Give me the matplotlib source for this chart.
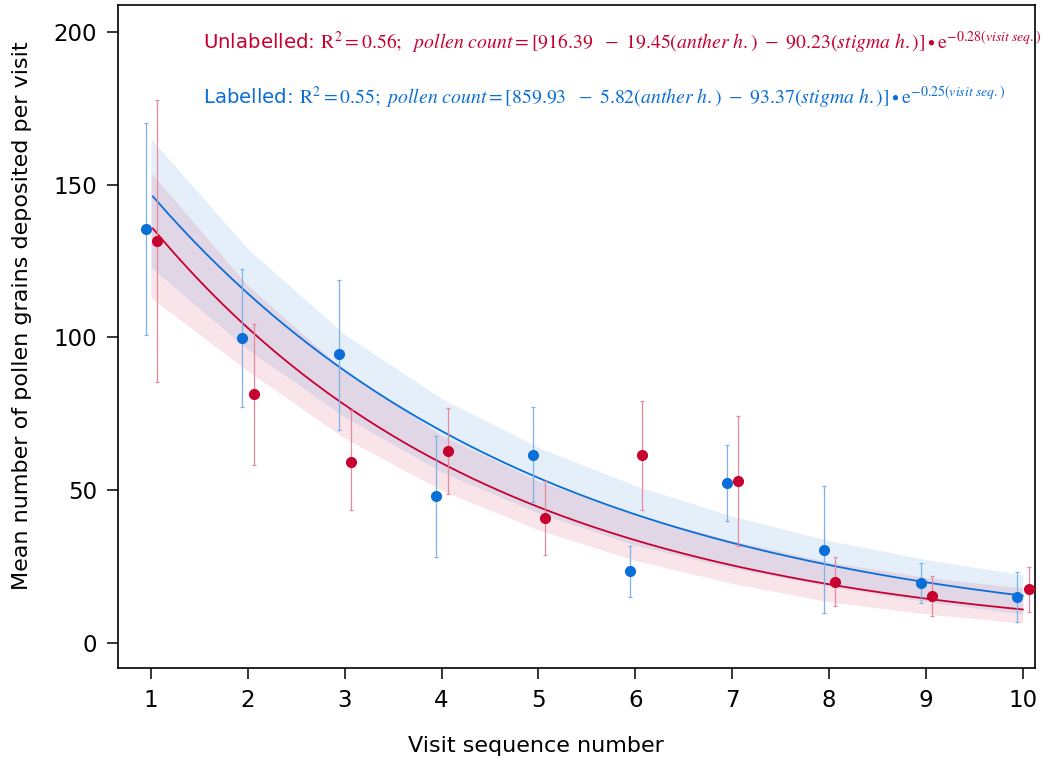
import numpy as np
import matplotlib
matplotlib.use("Agg")
import matplotlib.pyplot as plt

plt.rcParams["font.family"] = ["DejaVu Sans"]
plt.rcParams["mathtext.fontset"] = "stix"

# visit sequence
visits = np.arange(1, 11)

# labelled (blue) means and error bar ends
lab_mean = [135.5, 99.8, 94.6, 48.1, 61.5, 23.4, 52.4, 30.4, 19.6, 15.1]
lab_hi = [170.2, 122.4, 118.8, 67.8, 77.2, 31.8, 64.8, 51.4, 26.3, 23.2]
lab_lo = [100.8, 77.2, 69.7, 28.2, 46.2, 15.1, 39.9, 9.8, 13.1, 6.9]

# unlabelled (red) means and error bar ends
unl_mean = [131.6, 81.5, 59.2, 62.8, 40.9, 61.5, 53.0, 20.0, 15.4, 17.7]
unl_hi = [177.7, 104.4, 76.3, 76.9, 53.0, 79.2, 74.3, 28.2, 21.9, 24.9]
unl_lo = [85.4, 58.3, 43.5, 48.8, 28.8, 43.5, 31.8, 12.1, 8.8, 10.1]

# fitted curves: amplitude * exp(-rate * visit)
lab_amp, lab_rate = 188.6, 0.25
unl_amp, unl_rate = 180.5, 0.28

# confidence bands read at each visit
lab_band_hi = [165, 129, 101, 80, 64, 51.5, 41.5, 33.5, 27.3, 22.3]
lab_band_lo = [123, 96, 74, 56, 42.5, 32, 24.5, 18.5, 13.5, 9.5]
unl_band_hi = [154, 117, 89, 68, 53, 42, 33.5, 26.5, 21.5, 18]
unl_band_lo = [113, 89, 67, 50, 37, 27, 19.5, 13.5, 9.5, 6.5]

blue = "#0A6ED9"
red = "#C80030"
blue_err = "#80B0E8"
red_err = "#E58A9E"

fig = plt.figure(figsize=(10.49, 7.67), dpi=100)
ax = fig.add_axes([0.1125, 0.129, 0.8745, 0.8645])

# bands
ax.fill_between(visits, lab_band_lo, lab_band_hi, color=blue, alpha=0.11, lw=0)
ax.fill_between(visits, unl_band_lo, unl_band_hi, color=red, alpha=0.10, lw=0)

# fitted lines
xs = np.linspace(1.02, 10.0, 200)
ax.plot(xs, lab_amp * np.exp(-lab_rate * xs), color=blue, lw=1.3)
ax.plot(xs, unl_amp * np.exp(-unl_rate * xs), color=red, lw=1.3)

# points with error bars
lm = np.array(lab_mean)
um = np.array(unl_mean)
ax.errorbar(visits - 0.055, lm, yerr=[lm - np.array(lab_lo), np.array(lab_hi) - lm],
            fmt="o", color=blue, ecolor=blue_err, elinewidth=0.9, capsize=1.5,
            capthick=0.9, markersize=7, zorder=4)
ax.errorbar(visits + 0.065, um, yerr=[um - np.array(unl_lo), np.array(unl_hi) - um],
            fmt="o", color=red, ecolor=red_err, elinewidth=0.9, capsize=1.5,
            capthick=0.9, markersize=7, zorder=4)

ax.set_xlim(0.66, 10.13)
ax.set_ylim(-8.2, 208.8)
ax.set_xticks(visits)
ax.set_yticks([0, 50, 100, 150, 200])
ax.tick_params(axis="both", direction="out", length=8, width=1.1, labelsize=16.5, pad=7)
for s in ax.spines.values():
    s.set_linewidth(1.2)

ax.set_xlabel("Visit sequence number", fontsize=16)
ax.set_ylabel("Mean number of pollen grains deposited per visit", fontsize=16)
ax.xaxis.set_label_coords(0.456, -0.103)
ax.yaxis.set_label_coords(-0.094, 0.532)

# equations
ax.text(0.0927, 0.944,
        r"Unlabelled: $\mathrm{R^2 = 0.56;}\ \ \mathit{pollen\ count} = [916.39\ \ -\ 19.45(\mathit{anther\ h.})\ -\ 90.23(\mathit{stigma\ h.})]\bullet \mathrm{e}^{-0.28(\mathit{visit\ seq.})}$",
        transform=ax.transAxes, color=red, fontsize=14.2, va="center", ha="left")
ax.text(0.0927, 0.86,
        r"Labelled: $\mathrm{R^2 = 0.55;}\ \mathit{pollen\ count} = [859.93\ \ -\ 5.82(\mathit{anther\ h.})\ -\ 93.37(\mathit{stigma\ h.})]\bullet \mathrm{e}^{-0.25(\mathit{visit\ seq.})}$",
        transform=ax.transAxes, color=blue, fontsize=14.2, va="center", ha="left")

fig.savefig("out.png", dpi=100)
